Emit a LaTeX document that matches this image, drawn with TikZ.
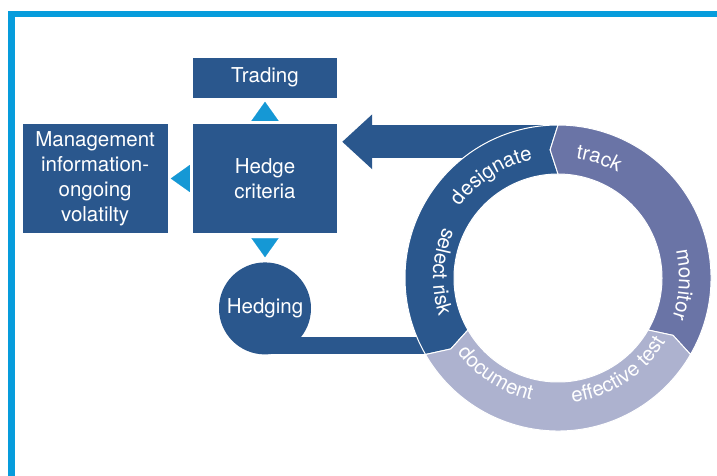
\documentclass[tikz,border=0pt]{standalone}
\usepackage{fontspec}
\setmainfont{TeX Gyre Heros}
\usepackage{tikz}
\usetikzlibrary{positioning}
\usetikzlibrary{arrows.meta,calc}
\usetikzlibrary{decorations.text}
\definecolor{hedgeblue}{HTML}{2A578D}
\definecolor{trackblue}{HTML}{6A74A6}
\definecolor{paleblue}{HTML}{ADB2CF}
\definecolor{pointblue}{HTML}{1598D5}
\definecolor{frameblue}{HTML}{069CDC}
\newcommand{\boxfont}{\fontsize{20.5}{25}\selectfont}
\newcommand{\ringfont}{\fontsize{20.5}{20.5}\selectfont}
\tikzstyle{box}=[rectangle,fill=hedgeblue,text=white,font=\boxfont,align=center,inner sep=0pt]
\tikzstyle{pointer}=[draw=white,line width=0.1pt,-{Triangle[width=27pt,length=19pt,color=pointblue]}]
\tikzstyle{bigarrow}=[draw=hedgeblue,line width=33pt,-{Triangle[width=53pt,length=30pt]}]
\tikzstyle{segment}=[draw=white,line width=1pt]

\begin{document}
\begin{tikzpicture}[x=1pt,y=1pt]

  \useasboundingbox (0,0) rectangle (717,475);
  \fill[white] (0,0) rectangle (717,475);

  % frame
  \draw[frameblue, line width=6.5pt] (11.5,-10) -- (11.5,461) -- (730,461);

  \node[box, minimum width=144pt, minimum height=109pt] (hedge) at (265,296.5) {Hedge\\criteria};
  \node[box, minimum width=144pt, minimum height=40pt, above=26pt of hedge] (trading) {Trading};
  \node[box, minimum width=145pt, minimum height=109pt, left=25pt of hedge] (mgmt) {Management\\information-\\ongoing\\volatilty};
  \node[box, circle, minimum size=92pt, below=29pt of hedge] (hedging) {Hedging};

  \coordinate (ring) at (558,197);
  \coordinate (barend) at ($(ring)+(-98,-67.5)$);
  \coordinate (arrowtip) at ($(hedge.north east)+(5,-18)$);

  \draw[hedgeblue, line width=17pt] (hedging.center |- barend) -- (barend);
  \draw[bigarrow] (ring |- arrowtip) -- (arrowtip);

  \foreach \from/\to/\gap in {hedge.north/trading.south/4pt, hedge.west/mgmt.east/3pt, hedge.south/hedging.north/5pt}
      \draw[pointer, shorten >=\gap] (\from) -- (\to);

  % ring
  \def\d{3.5}
  \begin{scope}[shift={(ring)}]
    \filldraw[segment, fill=hedgeblue] (90:153pt) arc[start angle=90, end angle=210, radius=153pt] -- ({210+\d}:128.5pt) -- (210:104pt) arc[start angle=210, end angle=90, radius=104pt] -- ({90+\d}:128.5pt) -- cycle;
    \filldraw[segment, fill=trackblue] (-30:153pt) arc[start angle=-30, end angle=90, radius=153pt] -- ({90+\d}:128.5pt) -- (90:104pt) arc[start angle=90, end angle=-30, radius=104pt] -- ({-30+\d}:128.5pt) -- cycle;
    \filldraw[segment, fill=paleblue] (210:153pt) arc[start angle=210, end angle=330, radius=153pt] -- ({330+\d}:128.5pt) -- (330:104pt) arc[start angle=330, end angle=210, radius=104pt] -- ({210+\d}:128.5pt) -- cycle;

    \path[decorate, decoration={text along path, text align=center, text color=white, text={|\ringfont|designate}}] (163:121pt) arc[start angle=163, end angle=83, radius=121pt];
    \path[decorate, decoration={text along path, text align=center, text color=white, text={|\ringfont|track}}] (111:121pt) arc[start angle=111, end angle=31, radius=121pt];
    \path[decorate, decoration={text along path, text align=center, text color=white, text={|\ringfont|monitor}}] (37:121pt) arc[start angle=37, end angle=-43, radius=121pt];
    \path[decorate, decoration={text along path, text align=center, text color=white, text={|\ringfont|select risk}}] (137:125pt) arc[start angle=137, end angle=217, radius=125pt];
    \path[decorate, decoration={text along path, text align=center, text color=white, text={|\ringfont|document}}] (197:125pt) arc[start angle=197, end angle=277, radius=125pt];
    \path[decorate, decoration={text along path, text align=center, text color=white, text={|\ringfont|effective test}}] (263:125pt) arc[start angle=263, end angle=343, radius=125pt];
  \end{scope}

\end{tikzpicture}
\end{document}
